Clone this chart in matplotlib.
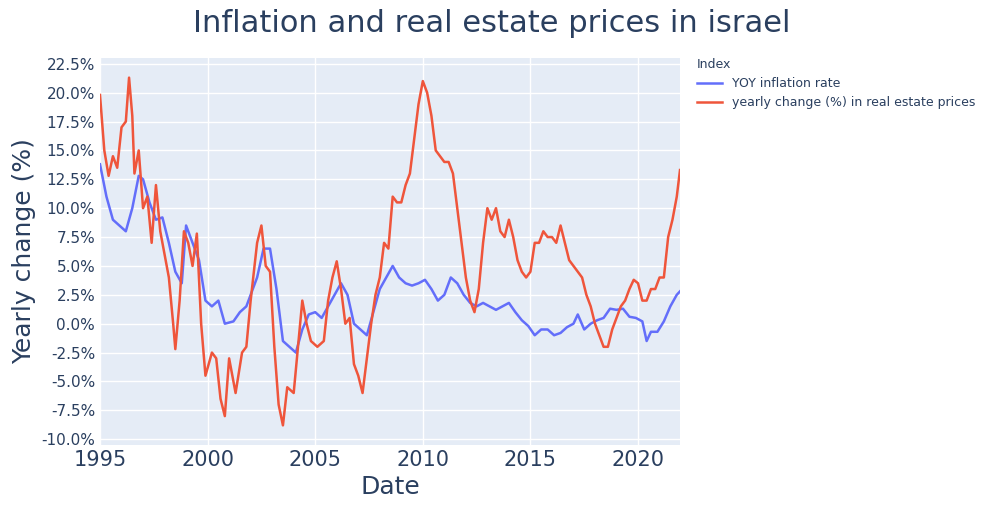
import numpy as np
import matplotlib.pyplot as plt

# inflation (YOY %)
infl_t = [1995.0, 1995.3, 1995.6, 1995.9, 1996.2, 1996.5, 1996.8, 1997.0, 1997.3, 1997.6, 1997.9,
          1998.2, 1998.5, 1998.8, 1999.0, 1999.3, 1999.6, 1999.9, 2000.2, 2000.5, 2000.8, 2001.2,
          2001.5, 2001.8, 2002.0, 2002.3, 2002.6, 2002.9, 2003.2, 2003.5, 2003.8, 2004.1, 2004.4,
          2004.7, 2005.0, 2005.3, 2005.6, 2005.9, 2006.2, 2006.5, 2006.8, 2007.1, 2007.4, 2007.7,
          2008.0, 2008.3, 2008.6, 2008.9, 2009.2, 2009.5, 2009.8, 2010.1, 2010.4, 2010.7, 2011.0,
          2011.3, 2011.6, 2011.9, 2012.2, 2012.5, 2012.8, 2013.1, 2013.4, 2013.7, 2014.0, 2014.3,
          2014.6, 2014.9, 2015.2, 2015.5, 2015.8, 2016.1, 2016.4, 2016.7, 2017.0, 2017.2, 2017.5,
          2017.8, 2018.1, 2018.4, 2018.7, 2019.0, 2019.3, 2019.6, 2019.9, 2020.2, 2020.4, 2020.6,
          2020.9, 2021.2, 2021.5, 2021.8, 2021.95]
infl = [13.8, 11, 9, 8.5, 8, 10, 12.8, 12.5, 10.5, 9, 9.2,
        7, 4.5, 3.5, 8.5, 7, 5.5, 2, 1.5, 2, 0, 0.2,
        1, 1.5, 2.5, 4, 6.5, 6.5, 3, -1.5, -2, -2.5, -0.5,
        0.8, 1, 0.5, 1.5, 2.5, 3.5, 2.5, 0, -0.5, -1, 1,
        3, 4, 5, 4, 3.5, 3.3, 3.5, 3.8, 3, 2, 2.5,
        4, 3.5, 2.5, 1.8, 1.5, 1.8, 1.5, 1.2, 1.5, 1.8, 1,
        0.3, -0.2, -1, -0.5, -0.5, -1, -0.8, -0.3, 0, 0.8, -0.5,
        0, 0.3, 0.5, 1.3, 1.2, 1.3, 0.6, 0.5, 0.2, -1.5, -0.7,
        -0.7, 0.2, 1.5, 2.5, 2.8]

# yearly change in real estate prices (%)
re_t = [1995.0, 1995.2, 1995.4, 1995.6, 1995.8, 1996.0, 1996.2, 1996.35, 1996.5, 1996.6, 1996.8,
        1997.0, 1997.2, 1997.4, 1997.6, 1997.8, 1998.0, 1998.2, 1998.4, 1998.5, 1998.7, 1998.9,
        1999.1, 1999.3, 1999.5, 1999.7, 1999.9, 2000.2, 2000.4, 2000.6, 2000.8, 2001.0, 2001.3,
        2001.6, 2001.8, 2002.0, 2002.3, 2002.5, 2002.7, 2002.9, 2003.1, 2003.3, 2003.5, 2003.7,
        2004.0, 2004.2, 2004.4, 2004.6, 2004.8, 2005.1, 2005.4, 2005.6, 2005.8, 2006.0, 2006.2,
        2006.4, 2006.6, 2006.8, 2007.0, 2007.2, 2007.4, 2007.6, 2007.8, 2008.0, 2008.2, 2008.4,
        2008.6, 2008.8, 2009.0, 2009.2, 2009.4, 2009.6, 2009.8, 2010.0, 2010.2, 2010.4, 2010.6,
        2010.8, 2011.0, 2011.2, 2011.4, 2011.6, 2011.8, 2012.0, 2012.2, 2012.4, 2012.6, 2012.8,
        2013.0, 2013.2, 2013.4, 2013.6, 2013.8, 2014.0, 2014.2, 2014.4, 2014.6, 2014.8, 2015.0,
        2015.2, 2015.4, 2015.6, 2015.8, 2016.0, 2016.2, 2016.4, 2016.6, 2016.8, 2017.0, 2017.2,
        2017.4, 2017.6, 2017.8, 2018.0, 2018.2, 2018.4, 2018.6, 2018.8, 2019.0, 2019.2, 2019.4,
        2019.6, 2019.8, 2020.0, 2020.2, 2020.4, 2020.6, 2020.8, 2021.0, 2021.2, 2021.4, 2021.6,
        2021.8, 2021.95]
re = [19.8, 15, 12.8, 14.5, 13.5, 17, 17.5, 21.3, 18, 13, 15,
      10, 11, 7, 12, 8, 6, 4, 0, -2.2, 2, 8,
      7, 5, 7.8, 0, -4.5, -2.5, -3, -6.5, -8, -3, -6,
      -2.5, -2, 2, 7, 8.5, 5, 4.5, -2, -7, -8.8, -5.5,
      -6, -2, 2, 0, -1.5, -2, -1.5, 2, 4, 5.4, 3,
      0, 0.5, -3.5, -4.5, -6, -3, 0, 2.5, 4, 7, 6.5,
      11, 10.5, 10.5, 12, 13, 16, 19, 21, 20, 18, 15,
      14.5, 14, 14, 13, 10, 7, 4, 2, 1, 3, 7,
      10, 9, 10, 8, 7.5, 9, 7.5, 5.5, 4.5, 4, 4.5,
      7, 7, 8, 7.5, 7.5, 7, 8.5, 7, 5.5, 5, 4.5,
      4, 2.5, 1.5, 0, -1, -2, -2, -0.5, 0.5, 1.5, 2,
      3, 3.8, 3.5, 2, 2, 3, 3, 4, 4, 7.5, 9,
      11, 13.3]

fig = plt.figure(figsize=(9.83, 5.25), dpi=100)
ax = fig.add_axes([100 / 983, 80 / 525, 580 / 983, 387 / 525])
ax.set_facecolor("#E5ECF6")
ax.grid(color="white", linewidth=1)
ax.set_axisbelow(True)
for s in ax.spines.values():
    s.set_visible(False)

ax.plot(infl_t, infl, color="#636EFA", lw=1.8, label="YOY inflation rate")
ax.plot(re_t, re, color="#EF553B", lw=1.8, label="yearly change (%) in real estate prices")

ax.set_xlim(1995, 2021.95)
ax.set_ylim(-10.5, 23)
ax.set_xticks([1995, 2000, 2005, 2010, 2015, 2020])
yt = np.arange(-10, 22.6, 2.5)
ax.set_yticks(yt)
ax.set_yticklabels([f"{v:.1f}%" for v in yt])
ax.tick_params(axis="x", labelsize=15, colors="#2a3f5f", length=0)
ax.tick_params(axis="y", labelsize=11, colors="#2a3f5f", length=0)
ax.set_xlabel("Date", fontsize=18, color="#2a3f5f")
ax.set_ylabel("Yearly change (%)", fontsize=18, color="#2a3f5f")
fig.text(0.5, 0.955, "Inflation and real estate prices in israel", ha="center", va="center",
         fontsize=22, color="#2a3f5f")

leg = ax.legend(loc="upper left", bbox_to_anchor=(1.01, 1.03), frameon=False, title="Index",
                fontsize=9, title_fontsize=9, alignment="left")
for t in leg.get_texts():
    t.set_color("#2a3f5f")
leg.get_title().set_color("#2a3f5f")

fig.savefig("out.png", dpi=100)
